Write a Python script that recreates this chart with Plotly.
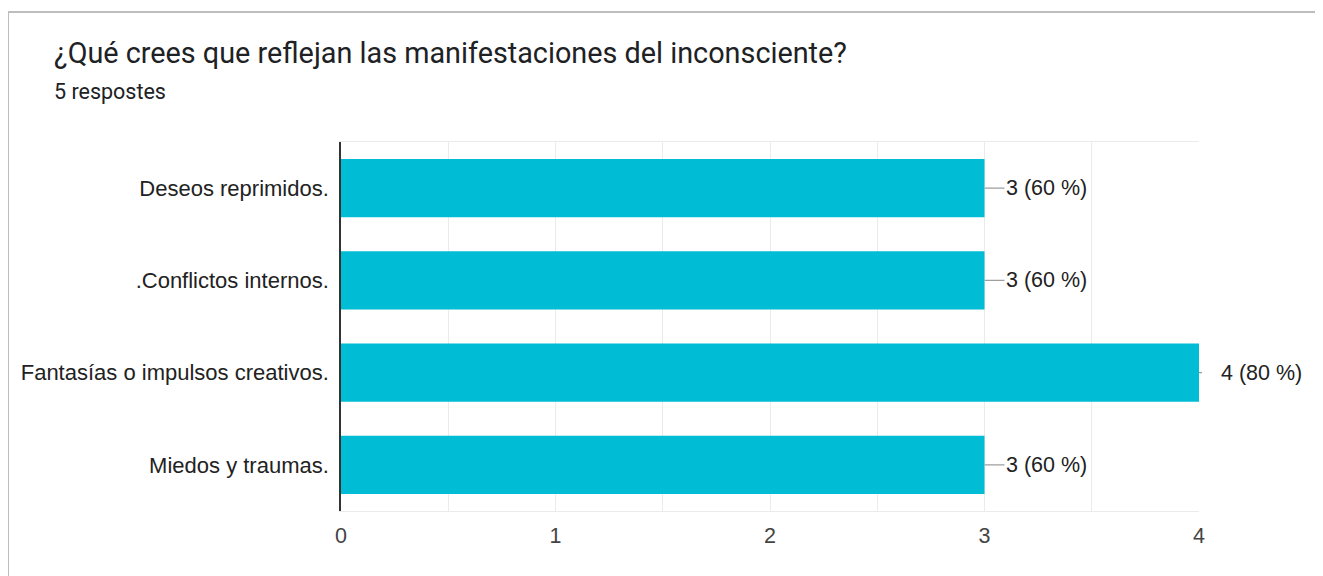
import plotly.graph_objects as go

categories = ["Deseos reprimidos.", ".Conflictos internos.", "Fantasías o impulsos creativos.", "Miedos y traumas."]
counts = [3, 3, 4, 3]
percents = [60, 60, 80, 60]
x_ticks = [0, 1, 2, 3, 4]
title_text = "¿Qué crees que reflejan las manifestaciones del inconsciente?"
subtitle_text = "5 respostes"

SW, SH = 1323, 576          # browser window
OFF = 8                     # page offset of the figure inside the window
W, H = SW - OFF, SH - OFF   # figure size so the page does not overflow
# target plot-area edges in screen pixels
SX0, SX1, SY0, SY1 = 341, 1199, 142, 511
L = SX0 - OFF
T = SY0 - OFF
R = W - (SX1 - OFF)
B = H - (SY1 - OFF)
pw, ph = W - L - R, H - T - B

def px_x(px):
    return (px - OFF - L) / pw

def px_y(py):
    return (H - B - (py - OFF)) / ph

FONT = "Liberation Sans, Arial"

fig = go.Figure()
fig.add_trace(go.Bar(
    x=counts, y=categories, orientation="h",
    marker=dict(color="#00BCD4", line=dict(width=0)),
    width=0.63, hoverinfo="skip",
))

annotations = []
for i, (c, p) in enumerate(zip(counts, percents)):
    annotations.append(dict(
        x=c, y=categories[i], xref="x", yref="y",
        text=f"{c} ({p} %)", showarrow=True, arrowhead=0,
        arrowcolor="#9e9e9e", arrowwidth=1.2,
        ax=62, ay=0, xanchor="center",
        startstandoff=(17 if c == max(x_ticks) else 0),
        font=dict(family=FONT, size=21.5, color="#222222"),
    ))

annotations.append(dict(
    x=px_x(52), y=px_y(53), xref="paper", yref="paper",
    xanchor="left", yanchor="middle", showarrow=False,
    text=title_text,
    font=dict(family="Roboto", size=28.8, color="#202124"),
))
annotations.append(dict(
    x=px_x(52), y=px_y(92), xref="paper", yref="paper",
    xanchor="left", yanchor="middle", showarrow=False,
    text=subtitle_text,
    font=dict(family="Roboto", size=21.5, color="#202124"),
))

border = dict(color="#bdbdbd", width=2)
shapes = [
    dict(type="line", xref="paper", yref="paper",
         x0=px_x(8), x1=px_x(SW + 10), y0=px_y(12), y1=px_y(12), line=border, layer="below"),
    dict(type="line", xref="paper", yref="paper",
         x0=px_x(8), x1=px_x(8), y0=px_y(12), y1=px_y(SH + 10), line=border, layer="below"),
]

fig.update_layout(
    width=W, height=H,
    margin=dict(l=L, r=R, t=T, b=B),
    paper_bgcolor="white", plot_bgcolor="white",
    showlegend=False,
    annotations=annotations, shapes=shapes,
    xaxis=dict(
        range=[0, 4], tickvals=x_ticks, ticktext=[str(v) for v in x_ticks],
        showgrid=True, gridcolor="#ebebeb", gridwidth=1,
        minor=dict(dtick=0.5, showgrid=True, gridcolor="#ebebeb", gridwidth=1),
        zeroline=False, showline=True, mirror=True, linecolor="#ebebeb", linewidth=1,
        tickfont=dict(family=FONT, size=21.5, color="#444444"),
        ticks="", ticklabelstandoff=5, fixedrange=True,
    ),
    yaxis=dict(
        autorange="reversed", showgrid=False, zeroline=False,
        showline=True, linecolor="#333333", linewidth=1.5, mirror=False,
        tickfont=dict(family=FONT, size=22, color="#222222"),
        ticks="", ticklabelstandoff=6, fixedrange=True,
    ),
)

fig.write_html("out.html")
